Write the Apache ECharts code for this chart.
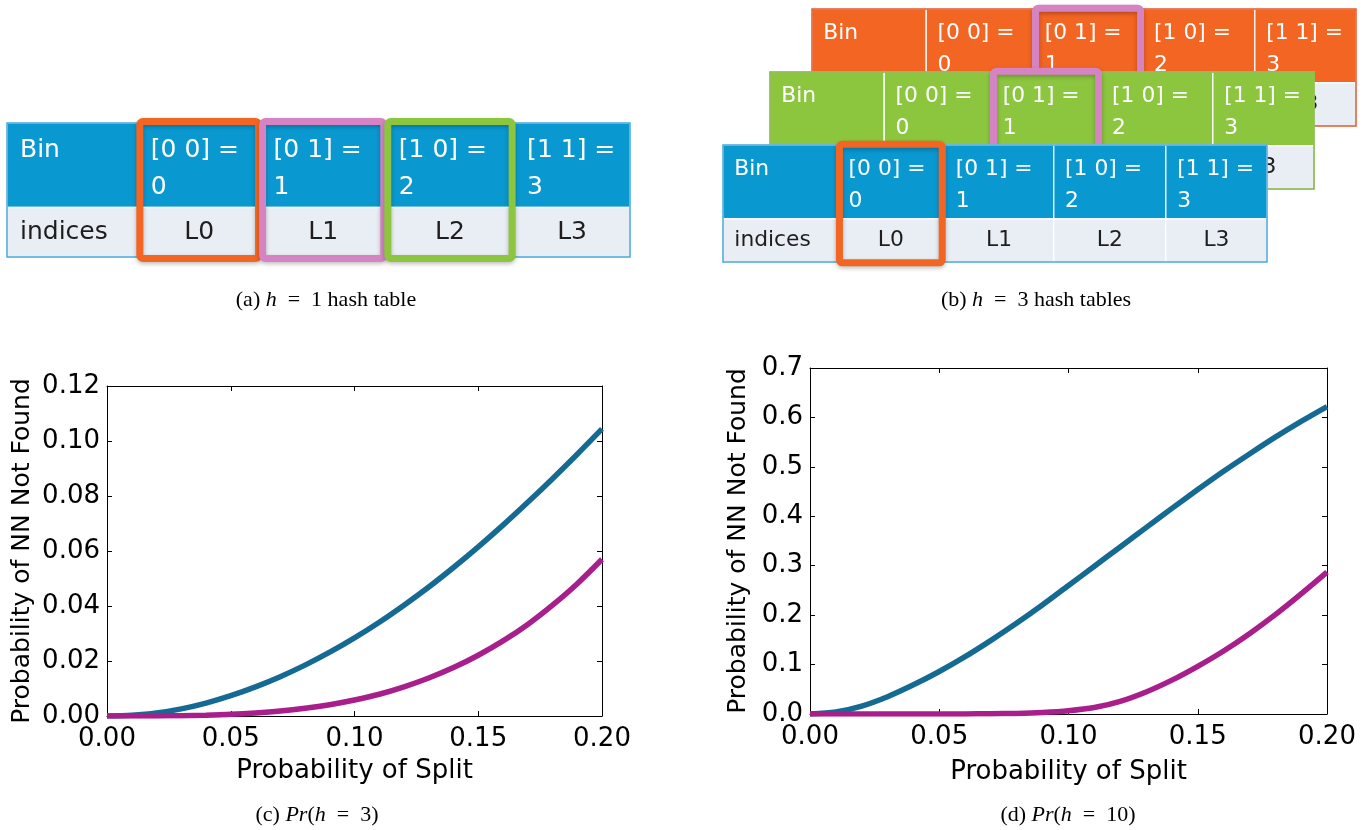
<!DOCTYPE html>
<html><head><meta charset="utf-8">
<script src="https://cdn.jsdelivr.net/npm/echarts@6/dist/echarts.min.js"></script>
<style>html,body{margin:0;padding:0;background:#fff}#c{width:1364px;height:830px}</style>
</head><body><div id="c"></div>
<script>
// ---------- data ----------
const splitProb = [0.00,0.01,0.02,0.03,0.04,0.05,0.06,0.07,0.08,0.09,0.10,0.11,0.12,0.13,0.14,0.15,0.16,0.17,0.18,0.19,0.20];
const h3Upper  = [0,0.0003,0.0011,0.0026,0.0047,0.0074,0.0106,0.0143,0.0185,0.0232,0.0284,0.0341,0.0403,0.0469,0.0540,0.0615,0.0694,0.0777,0.0863,0.0952,0.1044];
const h3Lower  = [0,0,0.00003,0.0001,0.0003,0.0006,0.0011,0.0018,0.0028,0.0041,0.0058,0.0079,0.0106,0.0138,0.0176,0.0221,0.0273,0.0333,0.0403,0.0481,0.0570];
const h10Upper = [0,0.004,0.016,0.035,0.059,0.086,0.116,0.149,0.184,0.221,0.260,0.299,0.338,0.377,0.416,0.454,0.491,0.526,0.560,0.592,0.622];
const h10Lower = [0,0,0,0,0,0,0.0002,0.0005,0.0012,0.0030,0.0065,0.0130,0.0255,0.0445,0.0685,0.0965,0.1275,0.1625,0.2010,0.2430,0.2870];

const xTickLabels   = ['0.00','0.05','0.10','0.15','0.20'];
const h3TickLabels  = ['0.00','0.02','0.04','0.06','0.08','0.10','0.12'];
const h10TickLabels = ['0.0','0.1','0.2','0.3','0.4','0.5','0.6','0.7'];

const rowHeads   = ['Bin','indices'];
const binCodes   = ['[0 0]','[0 1]','[1 0]','[1 1]'];
const binIds     = ['0','1','2','3'];
const binIndices = ['L0','L1','L2','L3'];

const highlightA      = [1, 2, 3];
const highlightAColor = ['orange','pink','green'];
const highlightBack   = [2];   // orange table (back)
const highlightMid    = [2];   // green table
const highlightFront  = [1];   // blue table (front)

// ---------- layout / style ----------
const COL_EDGES = [0, 0.210, 0.407, 0.608, 0.814, 1];
const ROW_EDGES = [0, 0.630, 1];
const PAL = {blue:'#0a98d1', orange:'#f26522', green:'#8cc63f', pink:'#d683c4', light:'#e9edf4',
             blueB:'#4aa8dc', orangeB:'#e2582a', greenB:'#7cb337',
             line1:'#156a93', line2:'#a81f8b'};
const FONT = '"DejaVu Sans", sans-serif';

const cells = [];
for (let r = 0; r < 2; r++) for (let c = 0; c < 5; c++) cells.push([c, r]);

function cellRender(headColor) {
  return function (params, api) {
    const col = api.value(0), row = api.value(1);
    const a = api.coord([COL_EDGES[col], ROW_EDGES[row]]);
    const b = api.coord([COL_EDGES[col + 1], ROW_EDGES[row + 1]]);
    const s = params.coordSys.height / 134;
    const header = row === 0;
    let text, align, tx;
    if (col === 0) { text = rowHeads[row]; align = 'left'; tx = a[0] + 13 * s; }
    else if (header) { text = binCodes[col - 1] + ' =\n' + binIds[col - 1]; align = 'left'; tx = a[0] + 13 * s; }
    else { text = binIndices[col - 1]; align = 'center'; tx = (a[0] + b[0]) / 2; }
    const ty = header ? a[1] + 9 * s : (a[1] + b[1]) / 2;
    return {type: 'group', children: [
      {type: 'rect', shape: {x: a[0], y: a[1], width: b[0] - a[0], height: b[1] - a[1]},
       style: {fill: header ? headColor : PAL.light, stroke: 'rgba(255,255,255,0.85)', lineWidth: 1.5}},
      {type: 'text', style: {text: text, x: tx, y: ty, fill: header ? '#ffffff' : '#1e1e1e',
        font: (25 * s).toFixed(1) + 'px ' + FONT, align: align,
        verticalAlign: header ? 'top' : 'middle', lineHeight: 37 * s}}
    ]};
  };
}
function borderRender(color) {
  return function (params, api) {
    const a = api.coord([0, 0]), b = api.coord([1, 1]);
    return {type: 'rect', shape: {x: a[0], y: a[1], width: b[0] - a[0], height: b[1] - a[1]},
      style: {fill: null, stroke: color, lineWidth: 1.5}};
  };
}
function boxRender(colorNames) {
  return function (params, api) {
    const col = api.value(0);
    const a = api.coord([COL_EDGES[col], 0]), b = api.coord([COL_EDGES[col + 1], 1]);
    const s = params.coordSys.height / 134;
    const lw = 7;
    return {type: 'rect',
      shape: {x: a[0] - 1.5 * s + lw / 2, y: a[1] - 5 * s + lw / 2,
              width: b[0] - a[0] + 3 * s - lw, height: b[1] - a[1] + 10 * s - lw, r: 3},
      style: {fill: null, stroke: PAL[colorNames[params.dataIndex]], lineWidth: lw,
              shadowBlur: 4, shadowColor: 'rgba(0,0,0,0.25)', shadowOffsetY: 2}};
  };
}

const tableGrids = [
  {left: 7,   top: 123, width: 623, height: 134},  // (a)
  {left: 812, top: 9,   width: 544, height: 117},  // (b) orange back
  {left: 770, top: 72,  width: 544, height: 117},  // (b) green
  {left: 723, top: 145, width: 544, height: 117}   // (b) blue front
];
const chartGrids = [
  {left: 107, top: 386, width: 495, height: 330},
  {left: 810, top: 368, width: 517, height: 346}
];

const xAxes = [], yAxes = [];
tableGrids.forEach((g, i) => {
  xAxes.push({type: 'value', gridIndex: i, min: 0, max: 1, show: false});
  yAxes.push({type: 'value', gridIndex: i, min: 0, max: 1, inverse: true, show: false});
});
const axLine = {show: true, onZero: false, lineStyle: {color: '#000', width: 1}};
const axTick = {show: true, inside: true, length: 5, lineStyle: {color: '#000', width: 1}};
const lbl = {color: '#000', fontFamily: FONT, fontSize: 26, margin: 7};
[0, 1].forEach(k => xAxes.push({type: 'value', gridIndex: 4 + k, min: 0, max: 0.2, interval: 0.05,
  axisLine: axLine, axisTick: axTick, splitLine: {show: false},
  axisLabel: Object.assign({}, lbl, {margin: 10, formatter: v => xTickLabels[Math.round(v / 0.05)]}),
  name: 'Probability of Split', nameLocation: 'middle', nameGap: k ? 45 : 42,
  nameTextStyle: {color: '#000', fontFamily: FONT, fontSize: 26}}));
yAxes.push({type: 'value', gridIndex: 4, min: 0, max: 0.12, interval: 0.02,
  axisLine: axLine, axisTick: axTick, splitLine: {show: false},
  axisLabel: Object.assign({}, lbl, {formatter: v => h3TickLabels[Math.round(v / 0.02)]}),
  name: 'Probability of NN Not Found', nameLocation: 'middle', nameRotate: 90, nameGap: 72,
  nameTextStyle: {color: '#000', fontFamily: FONT, fontSize: 25}});
yAxes.push({type: 'value', gridIndex: 5, min: 0, max: 0.7, interval: 0.1,
  axisLine: axLine, axisTick: axTick, splitLine: {show: false},
  axisLabel: Object.assign({}, lbl, {formatter: v => h10TickLabels[Math.round(v / 0.1)]}),
  name: 'Probability of NN Not Found', nameLocation: 'middle', nameRotate: 90, nameGap: 59,
  nameTextStyle: {color: '#000', fontFamily: FONT, fontSize: 25}});
[0, 1].forEach(k => xAxes.push({type: 'value', gridIndex: 4 + k, position: 'top', min: 0, max: 0.2, interval: 0.05,
  axisLine: axLine, axisTick: axTick, splitLine: {show: false}, axisLabel: {show: false}}));
yAxes.push({type: 'value', gridIndex: 4, position: 'right', min: 0, max: 0.12, interval: 0.02,
  axisLine: axLine, axisTick: axTick, splitLine: {show: false}, axisLabel: {show: false}});
yAxes.push({type: 'value', gridIndex: 5, position: 'right', min: 0, max: 0.7, interval: 0.1,
  axisLine: axLine, axisTick: axTick, splitLine: {show: false}, axisLabel: {show: false}});

const pairs = arr => splitProb.map((x, i) => [x, arr[i]]);
function lineSeries(idx, arr, color) {
  return {type: 'line', xAxisIndex: idx, yAxisIndex: idx, data: pairs(arr), showSymbol: false,
    smooth: 0.3, lineStyle: {color: color, width: 5.5}, z: 3};
}

const series = [
  {type: 'custom', xAxisIndex: 0, yAxisIndex: 0, data: cells, renderItem: cellRender(PAL.blue), z: 2},
  {type: 'custom', xAxisIndex: 0, yAxisIndex: 0, data: [[0]], renderItem: borderRender(PAL.blueB), z: 2},
  {type: 'custom', xAxisIndex: 0, yAxisIndex: 0, data: highlightA.map(c => [c]), renderItem: boxRender(highlightAColor), z: 3},
  {type: 'custom', xAxisIndex: 1, yAxisIndex: 1, data: cells, renderItem: cellRender(PAL.orange), z: 2},
  {type: 'custom', xAxisIndex: 1, yAxisIndex: 1, data: [[0]], renderItem: borderRender(PAL.orangeB), z: 2},
  {type: 'custom', xAxisIndex: 1, yAxisIndex: 1, data: highlightBack.map(c => [c]), renderItem: boxRender(['pink']), z: 3},
  {type: 'custom', xAxisIndex: 2, yAxisIndex: 2, data: cells, renderItem: cellRender(PAL.green), z: 4},
  {type: 'custom', xAxisIndex: 2, yAxisIndex: 2, data: [[0]], renderItem: borderRender(PAL.greenB), z: 4},
  {type: 'custom', xAxisIndex: 2, yAxisIndex: 2, data: highlightMid.map(c => [c]), renderItem: boxRender(['pink']), z: 5},
  {type: 'custom', xAxisIndex: 3, yAxisIndex: 3, data: cells, renderItem: cellRender(PAL.blue), z: 6},
  {type: 'custom', xAxisIndex: 3, yAxisIndex: 3, data: [[0]], renderItem: borderRender(PAL.blueB), z: 6},
  {type: 'custom', xAxisIndex: 3, yAxisIndex: 3, data: highlightFront.map(c => [c]), renderItem: boxRender(['orange']), z: 7},
  lineSeries(4, h3Upper, PAL.line1),
  lineSeries(4, h3Lower, PAL.line2),
  lineSeries(5, h10Upper, PAL.line1),
  lineSeries(5, h10Lower, PAL.line2)
];

const capFont = '22px "Liberation Serif", "Times New Roman", serif';
const capRich = {i: {fontStyle: 'italic', fontFamily: 'Liberation Serif', fontSize: 22, fill: '#000'}};
function caption(text, x, y) {
  return {type: 'text', x: x, y: y, style: {text: text, font: capFont, fill: '#000', align: 'center',
    verticalAlign: 'middle', rich: capRich}};
}

const chart = echarts.init(document.getElementById('c'), null, {renderer: 'canvas'});
chart.setOption({
  animation: false,
  backgroundColor: '#fff',
  grid: tableGrids.concat(chartGrids),
  xAxis: xAxes,
  yAxis: yAxes,
  series: series,
  graphic: [
    caption('(a) {i|h}  =  1 hash table', 326, 300),
    caption('(b) {i|h}  =  3 hash tables', 1036, 300),
    caption('(c) {i|Pr}({i|h}  =  3)', 317, 815),
    caption('(d) {i|Pr}({i|h}  =  10)', 1068, 815)
  ]
});
</script></body></html>
